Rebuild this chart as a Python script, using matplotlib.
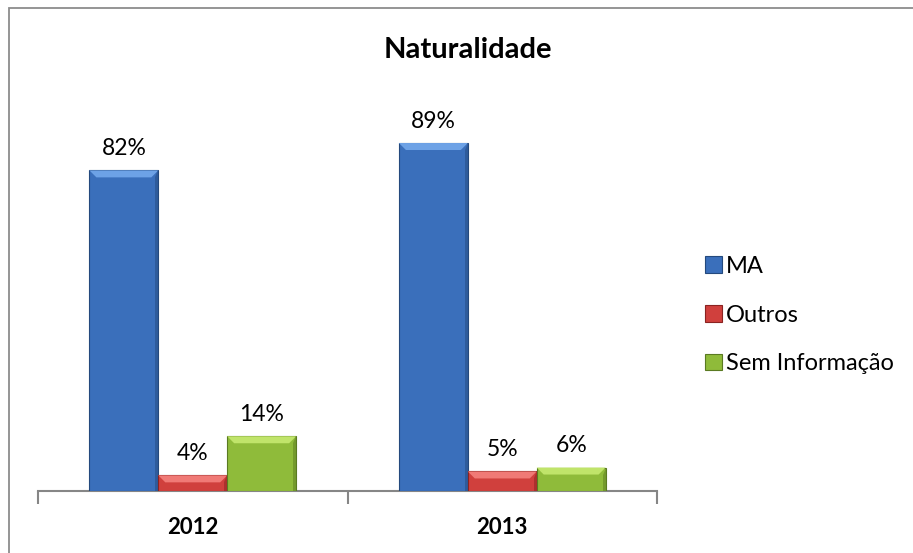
import matplotlib
matplotlib.use("Agg")
import matplotlib.pyplot as plt
from matplotlib.patches import Polygon, Rectangle
from matplotlib.transforms import IdentityTransform
import numpy as np

plt.rcParams['font.family'] = ['Lato', 'DejaVu Sans']

title = "Naturalidade"
categories = ["2012", "2013"]
series_names = ["MA", "Outros", "Sem Informação"]
ma = [82, 89]
outros = [4, 5]
sem_info = [14, 6]
series_values = [ma, outros, sem_info]

face_colors = ["#3a6fbb", "#d0403d", "#8fbb3a"]
light_colors = ["#6da2e6", "#f07a76", "#c0e46a"]
dark_colors = ["#24497d", "#8a2321", "#5a7a22"]

W, H, DPI = 913, 553, 100
fig = plt.figure(figsize=(W / DPI, H / DPI), dpi=DPI)

# outer chart border
fig.patches.append(Rectangle((9 / W, -0.05), 1.1, 1 - 8 / H + 0.05,
                             transform=fig.transFigure, fill=False,
                             edgecolor="#8c8c8c", linewidth=1.3, zorder=0))

ax = fig.add_axes([38 / W, (H - 491) / H, 619 / W, 391 / H])
x = np.arange(len(categories))
bw = 0.2226
offsets = [-bw, 0, bw]

bar_containers = []
for i, (name, vals) in enumerate(zip(series_names, series_values)):
    bc = ax.bar(x + offsets[i], vals, width=bw, color=face_colors[i],
                edgecolor=dark_colors[i], linewidth=0.8, label=name, zorder=3)
    bar_containers.append(bc)
    for xi, v in zip(x + offsets[i], vals):
        ax.annotate(f"{v}%", (xi, v), xytext=(0, 8), textcoords="offset points",
                    ha="center", va="bottom", fontsize=16.5, color="#000000")

ax.set_xlim(-0.5, 1.5)
ax.set_ylim(0, 100)
for s in ["top", "right", "left"]:
    ax.spines[s].set_visible(False)
ax.spines["bottom"].set_color("#868686")
ax.spines["bottom"].set_linewidth(1.5)
ax.set_yticks([])
ax.set_xticks(x)
ax.set_xticklabels(categories, fontweight="bold", fontsize=16)
ax.tick_params(axis="x", which="major", length=0, pad=19)
ax.set_xticks([-0.5, 0.5, 1.5], minor=True)
ax.tick_params(axis="x", which="minor", length=9, width=1.5, color="#868686", direction="out")

fig.text(468 / W, 1 - 50 / H, title, ha="center", va="center",
         fontsize=21, fontweight="bold")

# bevel effect on bars (derived from bar geometry)
fig.canvas.draw()
for i, bc in enumerate(bar_containers):
    for p in bc.patches:
        bb = p.get_window_extent()
        x0, x1, y0, y1 = bb.x0, bb.x1, bb.y0, bb.y1
        b = min(7, (y1 - y0) / 2)
        top = Polygon([[x0, y1], [x1, y1], [x1 - b, y1 - b], [x0 + b, y1 - b]],
                      closed=True, transform=IdentityTransform(),
                      facecolor=light_colors[i], edgecolor="none", zorder=4)
        fig.patches.append(top)
        side = Polygon([[x1, y1], [x1, y0], [x1 - 3, y0], [x1 - 3, y1 - b]],
                       closed=True, transform=IdentityTransform(),
                       facecolor=dark_colors[i], edgecolor="none", alpha=0.5, zorder=4)
        fig.patches.append(side)

leg = fig.legend(handles=[bc for bc in bar_containers], labels=series_names,
                 loc="center left", bbox_to_anchor=(696 / W, 1 - 315 / H),
                 frameon=False, fontsize=17, handlelength=0.7, handleheight=0.7,
                 handletextpad=0.15, labelspacing=1.17, borderaxespad=0)

fig.savefig("out.png", dpi=DPI)
